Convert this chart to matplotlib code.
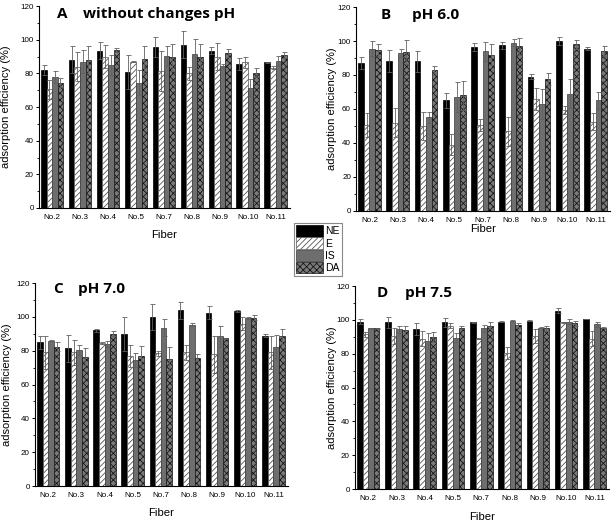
import matplotlib
matplotlib.use("Agg")
import matplotlib.pyplot as plt
import numpy as np
from matplotlib.patches import Patch
from matplotlib.ticker import MultipleLocator

fibers = ["No.2", "No.3", "No.4", "No.5", "No.7", "No.8", "No.9", "No.10", "No.11"]
series = ["NE", "E", "IS", "DA"]

# Panel A: without changes pH
A_NE = [82, 88, 93.5, 81, 95.5, 97, 93.5, 85.5, 86.5]
A_E = [70.5, 84, 90, 87, 81.5, 80, 90, 86.5, 83.5]
A_IS = [78, 87, 85, 74.5, 90.5, 91.5, 84.5, 71.5, 87.5]
A_DA = [74.5, 88, 94, 88.5, 89.5, 89.5, 92, 80.5, 91]
A_NE_err = [3, 8, 5, 10, 6, 8, 2, 3.5, 0.3]
A_E_err = [5.5, 8.5, 7, 0.5, 12, 4, 8, 3, 1]
A_IS_err = [3.5, 7, 6, 7.5, 6, 9, 1, 5, 3]
A_DA_err = [2.5, 8, 1, 8, 8, 8, 2.5, 2.5, 2]

# Panel B: pH 6.0
B_NE = [87, 88, 88, 65, 96.5, 97.5, 79, 100, 95.5]
B_E = [50.5, 52, 50, 39, 50.5, 47, 66, 59.5, 52.5]
B_IS = [95.5, 93, 55, 67, 94, 99, 63, 69, 65]
B_DA = [94.5, 93.5, 83, 68, 92, 97, 77.5, 98, 94]
B_NE_err = [3.5, 6.5, 6, 4.5, 2.5, 2, 1.5, 2.5, 1]
B_E_err = [7, 8.5, 8, 6, 3.5, 8.5, 6.5, 2.5, 5]
B_IS_err = [4.5, 2.5, 3.5, 9, 5.5, 2, 9, 8.5, 5]
B_DA_err = [3.5, 7, 2, 8.5, 6, 5, 3.5, 2.5, 3]

# Panel C: pH 7.0
C_NE = [85, 81.5, 92, 90, 100, 104, 102.5, 103.5, 89]
C_E = [79, 79, 84.5, 77, 78.5, 79, 78, 96, 79]
C_IS = [86, 80.5, 84, 74.5, 93.5, 95.5, 88.5, 99.5, 82.5]
C_DA = [82.5, 76.5, 90, 77, 75, 76, 87.5, 99.5, 88.5]
C_NE_err = [4, 8, 1, 10, 7.5, 5, 4, 0.3, 1]
C_E_err = [10, 7.5, 0.5, 6.5, 1.5, 4.5, 11, 4, 10]
C_IS_err = [0.5, 3, 2, 4, 5, 1, 6, 0.5, 7]
C_DA_err = [2.5, 5, 1.5, 6, 7, 2, 0.3, 1.5, 4.5]

# Panel D: pH 7.5
D_NE = [99, 98.5, 94.5, 98.5, 98.5, 99, 99.5, 105.5, 100.5]
D_E = [91.5, 90.5, 89, 96.5, 89, 80.5, 90.5, 98.5, 89]
D_IS = [95, 94.5, 87.5, 89.5, 95, 99.5, 95.5, 99, 97.5]
D_DA = [95, 94, 90, 95.5, 96.5, 97, 95, 98, 95.5]
D_NE_err = [1.5, 3.5, 3.5, 2.5, 0.3, 0.5, 0.3, 1.5, 0.2]
D_E_err = [1.5, 5, 4.5, 1.5, 0.3, 3.5, 4, 0.3, 4.5]
D_IS_err = [0.5, 2, 4.5, 2.5, 2, 0.3, 0.3, 1.5, 1.5]
D_DA_err = [0.5, 2.5, 3, 1, 2, 1, 1.5, 1.5, 0.5]

panels = [
    ("A", "without changes pH", [A_NE, A_E, A_IS, A_DA], [A_NE_err, A_E_err, A_IS_err, A_DA_err]),
    ("B", "pH 6.0", [B_NE, B_E, B_IS, B_DA], [B_NE_err, B_E_err, B_IS_err, B_DA_err]),
    ("C", "pH 7.0", [C_NE, C_E, C_IS, C_DA], [C_NE_err, C_E_err, C_IS_err, C_DA_err]),
    ("D", "pH 7.5", [D_NE, D_E, D_IS, D_DA], [D_NE_err, D_E_err, D_IS_err, D_DA_err]),
]

plt.rcParams['font.family'] = ['Liberation Sans', 'DejaVu Sans']
plt.rcParams['hatch.linewidth'] = 0.6

styles = [
    dict(facecolor="#000000", edgecolor="#000000", hatch=None),
    dict(facecolor="#ffffff", edgecolor="#555555", hatch="//////"),
    dict(facecolor="#6e6e6e", edgecolor="#3a3a3a", hatch=None),
    dict(facecolor="#7a7a7a", edgecolor="#151515", hatch="xxxxx"),
]

fig = plt.figure(figsize=(6.14, 5.23), dpi=100)
rects = [
    [0.0635, 0.6023, 0.409, 0.386],
    [0.580, 0.5966, 0.414, 0.390],
    [0.057, 0.0707, 0.412, 0.388],
    [0.578, 0.065, 0.414, 0.388],
]
letter_x = [0.072, 0.098, 0.071, 0.087]
text_x = [0.175, 0.22, 0.17, 0.197]
title_y = [0.96, 0.96, 0.97, 0.965]
ylab_x = [-0.131, -0.094, -0.109, -0.091]
xlab_y = [-0.134, -0.09, -0.133, -0.138]

x = np.arange(len(fibers))
w = 0.2
for i, (letter, title, vals, errs) in enumerate(panels):
    ax = fig.add_axes(rects[i])
    for j in range(4):
        st = styles[j]
        ax.bar(x + (j - 1.5) * w, vals[j], w, facecolor=st["facecolor"],
               edgecolor=st["edgecolor"], hatch=st["hatch"], linewidth=0.5,
               yerr=errs[j], ecolor="#606060",
               error_kw=dict(elinewidth=0.6, capsize=1.8, capthick=0.6))
    ax.set_xlim(-0.47, 8.52)
    ax.set_ylim(0, 120)
    ax.yaxis.set_major_locator(MultipleLocator(20))
    ax.yaxis.set_minor_locator(MultipleLocator(10))
    ax.set_xticks(x)
    ax.set_xticklabels(fibers)
    ax.tick_params(axis="both", labelsize=5.8, direction="out", width=0.7)
    ax.tick_params(axis="x", length=0, pad=4)
    ax.tick_params(axis="y", which="major", length=2.5, pad=1.2)
    ax.tick_params(axis="y", which="minor", length=1.5, width=0.6)
    ax.spines["top"].set_visible(False)
    ax.spines["right"].set_visible(False)
    for s in ["left", "bottom"]:
        ax.spines[s].set_linewidth(0.8)
    ax.set_ylabel("adsorption efficiency (%)", fontsize=8)
    ax.yaxis.set_label_coords(ylab_x[i], 0.5)
    ax.yaxis.label.set_va("center")
    ax.set_xlabel("Fiber", fontsize=8.2)
    ax.xaxis.set_label_coords(0.5, xlab_y[i])
    ax.xaxis.label.set_va("center")
    ax.text(letter_x[i], title_y[i], letter, transform=ax.transAxes, fontsize=11,
            fontweight="bold", family="Open Sans", va="center", ha="left")
    ax.text(text_x[i], title_y[i], title, transform=ax.transAxes, fontsize=11,
            fontweight="bold", family="Open Sans", va="center", ha="left")

handles = [Patch(facecolor=st["facecolor"], edgecolor=st["edgecolor"], hatch=st["hatch"], linewidth=0.5)
           for st in styles]
leg = fig.legend(handles, series, loc="upper left", bbox_to_anchor=(0.479, 0.5736),
                 fontsize=7.5, handlelength=2.6, handleheight=1.35, labelspacing=0.05,
                 handletextpad=0.2, borderpad=0.2, borderaxespad=0, fancybox=False,
                 edgecolor="#888888", framealpha=1)
leg.get_frame().set_linewidth(0.8)

fig.savefig("out.png", dpi=100)
